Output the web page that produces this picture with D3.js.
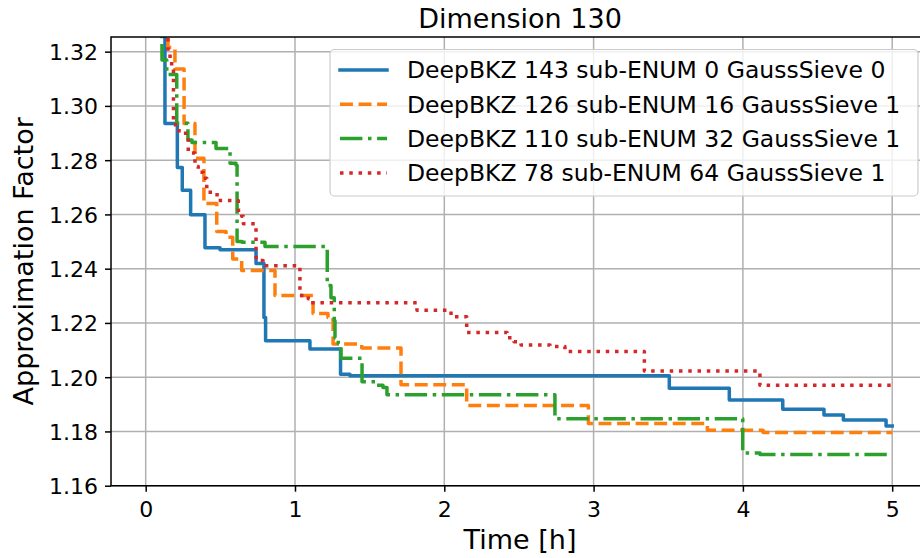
<!DOCTYPE html>
<html>
<head>
<meta charset="utf-8">
<script src="https://cdn.jsdelivr.net/npm/d3@7"></script>
<style>
  html, body { margin: 0; padding: 0; background: #ffffff; }
  svg { display: block; font-family: "DejaVu Sans", sans-serif; }
</style>
</head>
<body>
<svg id="chart" width="920" height="558"></svg>
<script>
// Approximation factor over time (hours) for four DeepBKZ / sub-ENUM / GaussSieve splits.
// Each series is a step function: the factor holds from a time until the next one.
const seriesLabels = [
  "DeepBKZ 143 sub-ENUM 0 GaussSieve 0",
  "DeepBKZ 126 sub-ENUM 16 GaussSieve 1",
  "DeepBKZ 110 sub-ENUM 32 GaussSieve 1",
  "DeepBKZ 78 sub-ENUM 64 GaussSieve 1"
];
const seriesColors = ["#1f77b4", "#ff7f0e", "#2ca02c", "#d62728"];

const deep143Time   = [0.02, 0.129, 0.212, 0.245, 0.301, 0.397, 0.498, 0.739, 0.792, 0.803, 1.100, 1.305, 1.368, 3.507, 3.909, 4.267, 4.543, 4.673, 4.959, 5.0];
const deep143Factor = [1.40, 1.2935, 1.2773, 1.2689, 1.2599, 1.2477, 1.2470, 1.2419, 1.2220, 1.2134, 1.2104, 1.2011, 1.2005, 1.1959, 1.1916, 1.1882, 1.1861, 1.1842, 1.1820, 1.1820];

const deep126Time   = [0.02, 0.149, 0.196, 0.257, 0.330, 0.390, 0.476, 0.538, 0.583, 0.643, 0.866, 1.121, 1.221, 1.255, 1.447, 1.710, 2.150, 2.965, 3.762, 4.135, 5.0];
const deep126Factor = [1.40, 1.3215, 1.3136, 1.2935, 1.2807, 1.2640, 1.2537, 1.2516, 1.2436, 1.2393, 1.2301, 1.2235, 1.2220, 1.2122, 1.2108, 1.1972, 1.1896, 1.1829, 1.1804, 1.1796, 1.1796];

const deep110Time   = [0.02, 0.109, 0.141, 0.208, 0.283, 0.310, 0.471, 0.565, 0.605, 0.612, 0.645, 0.799, 1.216, 1.241, 1.263, 1.268, 1.290, 1.308, 1.449, 1.543, 1.589, 1.616, 2.741, 3.999, 4.115, 5.0];
const deep110Factor = [1.40, 1.3169, 1.3116, 1.2936, 1.2874, 1.2865, 1.2843, 1.2789, 1.2781, 1.2500, 1.2497, 1.2482, 1.2338, 1.2293, 1.2208, 1.2145, 1.2123, 1.2070, 1.1983, 1.1970, 1.1962, 1.1935, 1.1847, 1.1721, 1.1715, 1.1715];

const deep78Time   = [0.02, 0.149, 0.163, 0.174, 0.186, 0.200, 0.223, 0.285, 0.330, 0.352, 0.386, 0.409, 0.478, 0.620, 0.643, 0.654, 0.739, 0.754, 0.786, 1.033, 1.089, 1.107, 1.817, 2.045, 2.150, 2.420, 2.467, 2.514, 2.708, 2.808, 3.340, 4.114, 4.997];
const deep78Factor = [1.40, 1.3195, 1.3163, 1.3139, 1.2948, 1.2922, 1.2899, 1.2826, 1.2777, 1.2755, 1.2733, 1.2682, 1.2651, 1.2615, 1.2593, 1.2566, 1.2441, 1.2430, 1.2411, 1.2301, 1.2289, 1.2274, 1.2247, 1.2223, 1.2165, 1.2145, 1.2131, 1.2119, 1.2113, 1.2095, 1.2023, 1.1970, 1.1970];

const xTicks = [0, 1, 2, 3, 4, 5];
const yTicks = [1.16, 1.18, 1.20, 1.22, 1.24, 1.26, 1.28, 1.30, 1.32];

const seriesTimes = [deep143Time, deep126Time, deep110Time, deep78Time];
const seriesFactors = [deep143Factor, deep126Factor, deep110Factor, deep78Factor];

// Matplotlib-like dash patterns scaled by line width
const lw = 3.5;
const dashes = [
  null,
  [3.7 * lw, 1.6 * lw],
  [6.4 * lw, 1.6 * lw, 1.0 * lw, 1.6 * lw],
  [1.0 * lw, 1.65 * lw]
];

const svg = d3.select("#chart");
const plot = { left: 111, right: 929, top: 37, bottom: 485.7 };

const x = d3.scaleLinear().domain([-0.2324, 5.2465]).range([plot.left, plot.right]);
const y = d3.scaleLinear().domain([1.16, 1.3254]).range([plot.bottom, plot.top]);

svg.append("defs").append("clipPath").attr("id", "plotClip")
  .append("rect")
  .attr("x", plot.left).attr("y", plot.top)
  .attr("width", plot.right - plot.left).attr("height", plot.bottom - plot.top);

// grid
const grid = svg.append("g");
grid.selectAll("line.gx").data(xTicks).join("line")
  .attr("x1", d => x(d)).attr("x2", d => x(d))
  .attr("y1", plot.top).attr("y2", plot.bottom)
  .attr("stroke", "#b0b0b0").attr("stroke-width", 1.5);
grid.selectAll("line.gy").data(yTicks).join("line")
  .attr("x1", plot.left).attr("x2", plot.right)
  .attr("y1", d => y(d)).attr("y2", d => y(d))
  .attr("stroke", "#b0b0b0").attr("stroke-width", 1.5);

// series
const line = d3.line()
  .x(d => x(d[0]))
  .y(d => y(d[1]))
  .curve(d3.curveStepAfter);

const lines = svg.append("g").attr("clip-path", "url(#plotClip)");
seriesTimes.forEach((times, i) => {
  const pts = times.map((t, j) => [t, seriesFactors[i][j]]);
  lines.append("path")
    .datum(pts)
    .attr("d", line)
    .attr("fill", "none")
    .attr("stroke", seriesColors[i])
    .attr("stroke-width", lw)
    .attr("stroke-linejoin", "round")
    .attr("stroke-linecap", i === 0 ? "square" : "butt")
    .attr("stroke-dasharray", dashes[i] ? dashes[i].join(",") : null);
});

// axes
const xAxis = svg.append("g")
  .attr("transform", `translate(0,${plot.bottom})`)
  .call(d3.axisBottom(x).tickValues(xTicks).tickFormat(d3.format("d")).tickSize(6).tickPadding(6));
const yAxis = svg.append("g")
  .attr("transform", `translate(${plot.left},0)`)
  .call(d3.axisLeft(y).tickValues(yTicks).tickFormat(d3.format(".2f")).tickSize(6).tickPadding(7));

[xAxis, yAxis].forEach(a => {
  a.select(".domain").remove();
  a.selectAll(".tick line").attr("stroke", "#000").attr("stroke-width", 1.5);
  a.selectAll(".tick text")
    .attr("fill", "#000")
    .style("font-family", "'DejaVu Sans', sans-serif")
    .style("font-size", "22px");
});
xAxis.selectAll(".tick text").attr("dy", null).attr("y", 31);
yAxis.selectAll(".tick text").attr("dy", "0.36em");

// frame
svg.append("path")
  .attr("d", `M${plot.right},${plot.top}H${plot.left}V${plot.bottom}H${plot.right}`)
  .attr("fill", "none").attr("stroke", "#000").attr("stroke-width", 1.5);

// legend
const legend = svg.append("g");
const lgX = 330, lgY = 49.5, lgW = 588, lgH = 146.5;
legend.append("rect")
  .attr("x", lgX).attr("y", lgY).attr("width", lgW).attr("height", lgH)
  .attr("rx", 4.5).attr("ry", 4.5)
  .attr("fill", "#ffffff").attr("fill-opacity", 0.8)
  .attr("stroke", "#cccccc").attr("stroke-width", 1.2);
const rowY = [70, 104.3, 138.6, 173];
seriesLabels.forEach((label, i) => {
  legend.append("line")
    .attr("x1", 340).attr("x2", 387)
    .attr("y1", rowY[i]).attr("y2", rowY[i])
    .attr("stroke", seriesColors[i])
    .attr("stroke-width", lw)
    .attr("stroke-linecap", i === 0 ? "square" : "butt")
    .attr("stroke-dasharray", dashes[i] ? dashes[i].join(",") : null);
  legend.append("text")
    .attr("x", 407).attr("y", rowY[i] + 8.3)
    .attr("fill", "#000")
    .style("font-size", "23.5px")
    .text(label);
});

// title and axis labels
svg.append("text")
  .attr("x", (plot.left + plot.right) / 2).attr("y", 28)
  .attr("text-anchor", "middle").attr("fill", "#000")
  .style("font-size", "27px")
  .text("Dimension 130");
svg.append("text")
  .attr("x", (plot.left + plot.right) / 2).attr("y", 549)
  .attr("text-anchor", "middle").attr("fill", "#000")
  .style("font-size", "27px")
  .text("Time [h]");
svg.append("text")
  .attr("transform", `translate(33,${(plot.top + plot.bottom) / 2}) rotate(-90)`)
  .attr("text-anchor", "middle").attr("fill", "#000")
  .style("font-size", "27px")
  .text("Approximation Factor");
</script>
</body>
</html>
